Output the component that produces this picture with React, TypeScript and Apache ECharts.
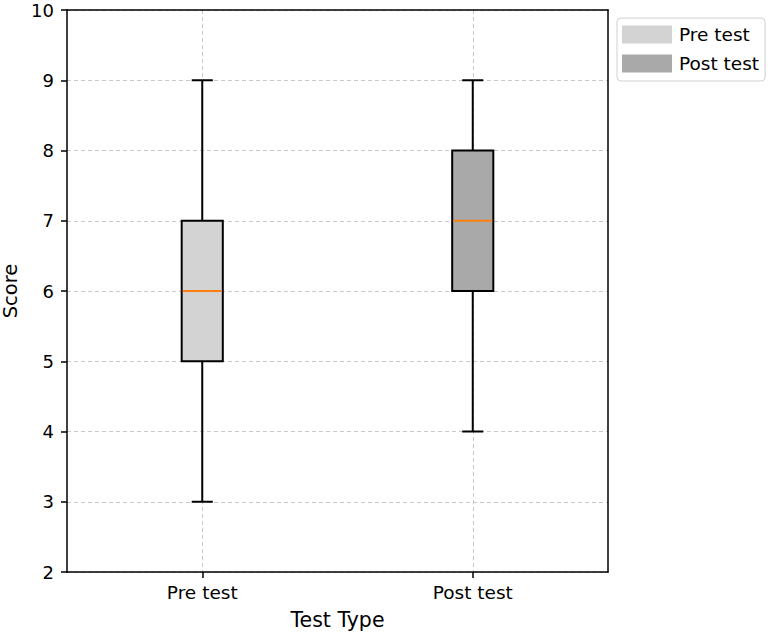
import React, { useEffect, useRef } from "react";
import * as echarts from "echarts";

const categories = ["Pre test", "Post test"];
// [min, Q1, median, Q3, max]
const preStats = [3, 5, 6, 7, 9];
const postStats = [4, 6, 7, 8, 9];
const yTicks = [2, 3, 4, 5, 6, 7, 8, 9, 10];
const seriesColors = ["#d3d3d3", "#a9a9a9"];

const FONT = "DejaVu Sans";

function renderBox(params: any, api: any) {
  const x = api.value(0);
  const lo = api.coord([x, api.value(1)]);
  const q1 = api.coord([x, api.value(2)]);
  const med = api.coord([x, api.value(3)]);
  const q3 = api.coord([x, api.value(4)]);
  const hi = api.coord([x, api.value(5)]);
  const band = api.size([1, 0])[0];
  const bw = band * 0.152;
  const cw = band * 0.078;
  const cx = lo[0];
  const fill = api.visual("color");
  const lineStyle = { stroke: "#000", lineWidth: 2 };
  return {
    type: "group",
    children: [
      { type: "line", shape: { x1: cx, y1: lo[1], x2: cx, y2: q1[1] }, style: lineStyle },
      { type: "line", shape: { x1: cx, y1: q3[1], x2: cx, y2: hi[1] }, style: lineStyle },
      { type: "line", shape: { x1: cx - cw / 2, y1: lo[1], x2: cx + cw / 2, y2: lo[1] }, style: lineStyle },
      { type: "line", shape: { x1: cx - cw / 2, y1: hi[1], x2: cx + cw / 2, y2: hi[1] }, style: lineStyle },
      {
        type: "rect",
        shape: { x: cx - bw / 2, y: q3[1], width: bw, height: q1[1] - q3[1] },
        style: { fill, stroke: "#000", lineWidth: 2 },
      },
      {
        type: "line",
        shape: { x1: cx - bw / 2 + 1, y1: med[1], x2: cx + bw / 2 - 1, y2: med[1] },
        style: { stroke: "#ff7f0e", lineWidth: 2 },
      },
    ],
  };
}

export default function App() {
  const ref = useRef<HTMLDivElement>(null);
  useEffect(() => {
    if (!ref.current) return;
    const chart = echarts.init(ref.current, null, { renderer: "svg" });
    const statsList = [preStats, postStats];
    const frameLine = { show: true, lineStyle: { color: "#000", width: 1.5 } };
    chart.setOption({
      animation: false,
      backgroundColor: "#fff",
      textStyle: { fontFamily: FONT },
      grid: {
        left: 67,
        top: 10,
        right: 162,
        bottom: 63,
        show: false,
        containLabel: false,
        outerBoundsMode: "none",
      },
      legend: {
        orient: "vertical",
        left: 617,
        top: 18,
        padding: [7, 6, 8, 5],
        itemWidth: 50,
        itemHeight: 18,
        itemGap: 10,
        icon: "rect",
        backgroundColor: "#fff",
        borderColor: "#d0d0d0",
        borderWidth: 1,
        borderRadius: 4,
        itemStyle: { borderWidth: 0 },
        textStyle: { fontFamily: FONT, fontSize: 18.5, color: "#000", padding: [0, 0, 0, 2] },
        data: categories,
      },
      xAxis: [
        {
          type: "category",
          data: categories,
          boundaryGap: true,
          name: "Test Type",
          nameLocation: "middle",
          nameGap: 37,
          nameTextStyle: { fontFamily: FONT, fontSize: 20.5, color: "#000" },
          axisLine: frameLine,
          axisTick: { show: true, alignWithLabel: true, length: 6, lineStyle: { color: "#000", width: 1.5 } },
          axisLabel: { fontFamily: FONT, fontSize: 18.5, color: "#000", margin: 11 },
          splitLine: {
            show: true,
            alignWithLabel: true,
            lineStyle: { color: "#c8c8c8", type: [4, 3], width: 1 },
          },
        },
        {
          type: "category",
          data: categories,
          position: "top",
          axisLine: frameLine,
          axisTick: { show: false },
          axisLabel: { show: false },
          splitLine: { show: false },
        },
      ],
      yAxis: [
        {
          type: "value",
          min: yTicks[0],
          max: yTicks[yTicks.length - 1],
          interval: 1,
          name: "Score",
          nameLocation: "middle",
          nameGap: 43,
          nameTextStyle: { fontFamily: FONT, fontSize: 19.5, color: "#000" },
          axisLine: frameLine,
          axisTick: { show: true, length: 6, lineStyle: { color: "#000", width: 1.5 } },
          axisLabel: { fontFamily: FONT, fontSize: 18, color: "#000", margin: 13 },
          splitLine: { show: true, lineStyle: { color: "#c8c8c8", type: [4, 3], width: 1 } },
        },
        {
          type: "value",
          min: yTicks[0],
          max: yTicks[yTicks.length - 1],
          interval: 1,
          position: "right",
          axisLine: frameLine,
          axisTick: { show: false },
          axisLabel: { show: false },
          splitLine: { show: false },
        },
      ],
      series: categories.map((name, i) => ({
        type: "custom",
        name,
        renderItem: renderBox,
        itemStyle: { color: seriesColors[i], borderWidth: 0 },
        encode: { x: 0, y: [1, 2, 3, 4, 5] },
        data: [[i, ...statsList[i]]],
        z: 3,
      })),
    });
    return () => chart.dispose();
  }, []);
  return (
    <div
      ref={ref}
      style={{ position: "fixed", left: 0, top: 0, width: 770, height: 635 }}
    />
  );
}
